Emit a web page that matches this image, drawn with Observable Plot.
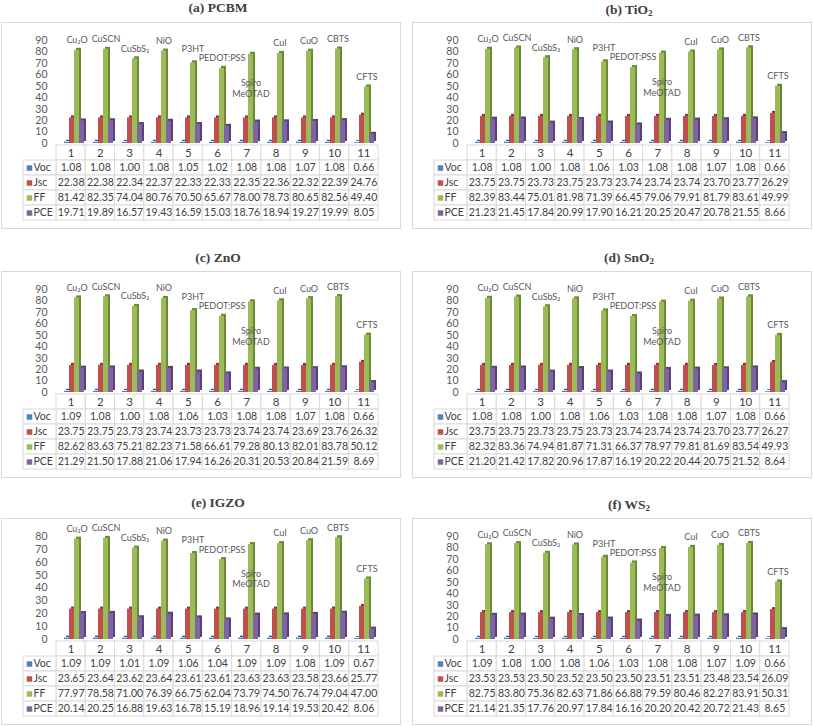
<!DOCTYPE html>
<html><head><meta charset="utf-8">
<script src="https://cdn.jsdelivr.net/npm/d3@7"></script>
<script src="https://cdn.jsdelivr.net/npm/@observablehq/plot@0.6"></script>
<style>
body{margin:0;background:#fff;font-family:Lato,sans-serif;}
#root{position:relative;width:813px;height:726px;overflow:hidden;}
.title{position:absolute;width:400px;font-family:"Liberation Serif",serif;font-weight:bold;font-size:13.5px;color:#404040;text-align:center;height:16px;line-height:16px;}
.title span{padding-left:34px;}
.title sub{font-size:9px;vertical-align:-2px;line-height:0;}
.box{position:absolute;width:398px;border:1px solid #D9D9D9;background:#fff;}
.box svg{display:block;}
</style></head><body><div id="root"></div>
<script>
// ---------- data ----------
const conditions = [1, 2, 3, 4, 5, 6, 7, 8, 9, 10, 11];
const htlLabels = ["Cu₂O", "CuSCN", "CuSbS₂", "NiO", "P3HT", "PEDOT:PSS", "Spiro\nMeOTAD", "CuI", "CuO", "CBTS", "CFTS"];
const seriesNames = ["Voc", "Jsc", "FF", "PCE"];

const pcbmVoc = [1.08, 1.08, 1.00, 1.08, 1.05, 1.02, 1.08, 1.08, 1.07, 1.08, 0.66];
const pcbmJsc = [22.38, 22.38, 22.34, 22.37, 22.33, 22.33, 22.35, 22.36, 22.32, 22.39, 24.76];
const pcbmFF  = [81.42, 82.35, 74.04, 80.76, 70.50, 65.67, 78.00, 78.73, 80.65, 82.56, 49.40];
const pcbmPCE = [19.71, 19.89, 16.57, 19.43, 16.59, 15.03, 18.76, 18.94, 19.27, 19.99, 8.05];

const tio2Voc = [1.08, 1.08, 1.00, 1.08, 1.06, 1.03, 1.08, 1.08, 1.07, 1.08, 0.66];
const tio2Jsc = [23.75, 23.75, 23.73, 23.75, 23.73, 23.74, 23.74, 23.74, 23.70, 23.77, 26.29];
const tio2FF  = [82.39, 83.44, 75.01, 81.98, 71.39, 66.45, 79.06, 79.91, 81.79, 83.61, 49.99];
const tio2PCE = [21.23, 21.45, 17.84, 20.99, 17.90, 16.21, 20.25, 20.47, 20.78, 21.55, 8.66];

const znoVoc = [1.09, 1.08, 1.00, 1.08, 1.06, 1.03, 1.08, 1.08, 1.07, 1.08, 0.66];
const znoJsc = [23.75, 23.75, 23.73, 23.74, 23.73, 23.73, 23.74, 23.74, 23.69, 23.76, 26.32];
const znoFF  = [82.62, 83.63, 75.21, 82.23, 71.58, 66.61, 79.28, 80.13, 82.01, 83.78, 50.12];
const znoPCE = [21.29, 21.50, 17.88, 21.06, 17.94, 16.26, 20.31, 20.53, 20.84, 21.59, 8.69];

const sno2Voc = [1.08, 1.08, 1.00, 1.08, 1.06, 1.03, 1.08, 1.08, 1.07, 1.08, 0.66];
const sno2Jsc = [23.75, 23.75, 23.73, 23.75, 23.73, 23.74, 23.74, 23.74, 23.70, 23.77, 26.27];
const sno2FF  = [82.32, 83.36, 74.94, 81.87, 71.31, 66.37, 78.97, 79.81, 81.69, 83.54, 49.93];
const sno2PCE = [21.20, 21.42, 17.82, 20.96, 17.87, 16.19, 20.22, 20.44, 20.75, 21.52, 8.64];

const igzoVoc = [1.09, 1.09, 1.01, 1.09, 1.06, 1.04, 1.09, 1.09, 1.08, 1.09, 0.67];
const igzoJsc = [23.65, 23.64, 23.62, 23.64, 23.61, 23.61, 23.63, 23.63, 23.58, 23.66, 25.77];
const igzoFF  = [77.97, 78.58, 71.00, 76.39, 66.75, 62.04, 73.79, 74.50, 76.74, 79.04, 47.00];
const igzoPCE = [20.14, 20.25, 16.88, 19.63, 16.78, 15.19, 18.96, 19.14, 19.53, 20.42, 8.06];

const ws2Voc = [1.09, 1.08, 1.00, 1.08, 1.06, 1.03, 1.08, 1.08, 1.07, 1.09, 0.66];
const ws2Jsc = [23.53, 23.53, 23.50, 23.52, 23.50, 23.50, 23.51, 23.51, 23.48, 23.54, 26.09];
const ws2FF  = [82.75, 83.80, 75.36, 82.63, 71.86, 66.88, 79.59, 80.46, 82.27, 83.91, 50.31];
const ws2PCE = [21.14, 21.35, 17.76, 20.97, 17.84, 16.16, 20.20, 20.42, 20.72, 21.43, 8.65];

const panelTitles = ["(a) PCBM", "(b) TiO<sub>2</sub>", "(c) ZnO", "(d) SnO<sub>2</sub>", "(e) IGZO", "(f) WS<sub>2</sub>"];
const panelYMax = [90, 90, 90, 90, 80, 90];

// ---------- styles ----------
const colors = ["#4F81BD", "#C0504D", "#9BBB59", "#8064A2"];
const sideColors = ["#2E5A8C", "#8C3533", "#6B8A34", "#59427A"];
// label vertical nudges (pixels) keyed by condition number
const labelDy = {5: -14, 7: 34};

const panels = [
  {values: [pcbmVoc, pcbmJsc, pcbmFF, pcbmPCE], left: 1, titleTop: 0, boxTop: 22},
  {values: [tio2Voc, tio2Jsc, tio2FF, tio2PCE], left: 412, titleTop: 2, boxTop: 22},
  {values: [znoVoc, znoJsc, znoFF, znoPCE], left: 1, titleTop: 250, boxTop: 271},
  {values: [sno2Voc, sno2Jsc, sno2FF, sno2PCE], left: 412, titleTop: 250, boxTop: 271},
  {values: [igzoVoc, igzoJsc, igzoFF, igzoPCE], left: 1, titleTop: 495, boxTop: 518},
  {values: [ws2Voc, ws2Jsc, ws2FF, ws2PCE], left: 412, titleTop: 497, boxTop: 518}
];

const W = 398, lblLeft = 21, ML = 54, MR = 22;
const root = document.getElementById("root");
const baseStyle = {fontFamily: "Lato, sans-serif", color: "#595959", background: "transparent", overflow: "visible"};

panels.forEach((p, k) => {
  const yMax = panelYMax[k];
  const long = [];
  conditions.forEach((c, i) => {
    seriesNames.forEach((s, j) => long.push({cond: c, series: s, value: p.values[j][i], label: htlLabels[i]}));
  });

  const labelMarks = [
    Plot.text(long, {filter: d => d.series === "FF" && !(d.cond in labelDy), x: "series", y: "value", text: "label", dy: -10, fontSize: 9, fill: "#595959"}),
    ...Object.entries(labelDy).map(([c, dy]) =>
      Plot.text(long, {filter: d => d.series === "FF" && d.cond === +c, x: "series", y: "value", text: "label", dy, lineHeight: 1.2, fontSize: 9, fill: "#595959"}))
  ];

  const chart = Plot.plot({
    width: W, height: 120,
    marginLeft: ML, marginRight: MR, marginTop: 17, marginBottom: 0,
    style: {...baseStyle, fontSize: "10.5px"},
    facet: {data: long, x: "cond"},
    fx: {domain: conditions, padding: 0, axis: null},
    x: {domain: seriesNames, paddingInner: 0.04, paddingOuter: 0.55, align: 0.7, axis: null},
    y: {domain: [0, yMax], ticks: yMax / 10, tickSize: 0, tickPadding: 11, label: null},
    marks: [
      ...seriesNames.map((s, j) => Plot.barY(long, {filter: d => d.series === s, x: "series", y: "value", fill: sideColors[j], dx: 2, dy: -2})),
      ...seriesNames.map((s, j) => Plot.barY(long, {filter: d => d.series === s, x: "series", y: "value", fill: colors[j]})),
      ...labelMarks
    ]
  });

  // table
  const colW = (W - ML - MR) / 11;
  const lblW = (ML - lblLeft) / colW;
  const rowKeys = ["#", ...seriesNames];
  const cells = [];
  const texts = [];
  conditions.forEach((c, i) => {
    cells.push({x1: i, x2: i + 1, row: "#"});
    texts.push({xm: i + 0.5, row: "#", text: String(c), size: "h"});
    seriesNames.forEach((s, j) => {
      cells.push({x1: i, x2: i + 1, row: s});
      texts.push({xm: i + 0.5, row: s, text: p.values[j][i].toFixed(2), size: "v"});
    });
  });
  const rowLabels = seriesNames.map((s, j) => ({x1: -lblW, x2: 0, row: s, color: colors[j]}));

  const table = Plot.plot({
    width: W, height: 85,
    marginLeft: lblLeft, marginRight: MR, marginTop: 0, marginBottom: 6,
    style: {...baseStyle, fontSize: "10.5px"},
    x: {domain: [-lblW, 11], axis: null},
    y: {domain: rowKeys, padding: 0, axis: null},
    marks: [
      Plot.barX(cells, {x1: "x1", x2: "x2", y: "row", fill: "white", stroke: "#D9D9D9"}),
      Plot.barX(rowLabels, {x1: "x1", x2: "x2", y: "row", fill: "white", stroke: "#D9D9D9"}),
      Plot.text(texts, {filter: d => d.size === "v", x: "xm", y: "row", text: "text", fontSize: 10.5, fill: "#404040"}),
      Plot.text(texts, {filter: d => d.size === "h", x: "xm", y: "row", text: "text", fontSize: 11.5, fill: "#404040"}),
      Plot.dot(rowLabels, {x: "x1", y: "row", symbol: "square", r: 3.1, fill: "color", dx: 6}),
      Plot.text(rowLabels, {x: "x1", y: "row", text: "row", textAnchor: "start", dx: 10, fontSize: 10.5, fill: "#404040"})
    ]
  });

  const title = document.createElement("div");
  title.className = "title";
  title.style.left = p.left + "px";
  title.style.top = p.titleTop + "px";
  title.innerHTML = "<span>" + panelTitles[k] + "</span>";
  root.appendChild(title);

  const box = document.createElement("div");
  box.className = "box";
  box.style.left = p.left + "px";
  box.style.top = p.boxTop + "px";
  box.appendChild(chart);
  box.appendChild(table);
  root.appendChild(box);
});
</script>
</body></html>
